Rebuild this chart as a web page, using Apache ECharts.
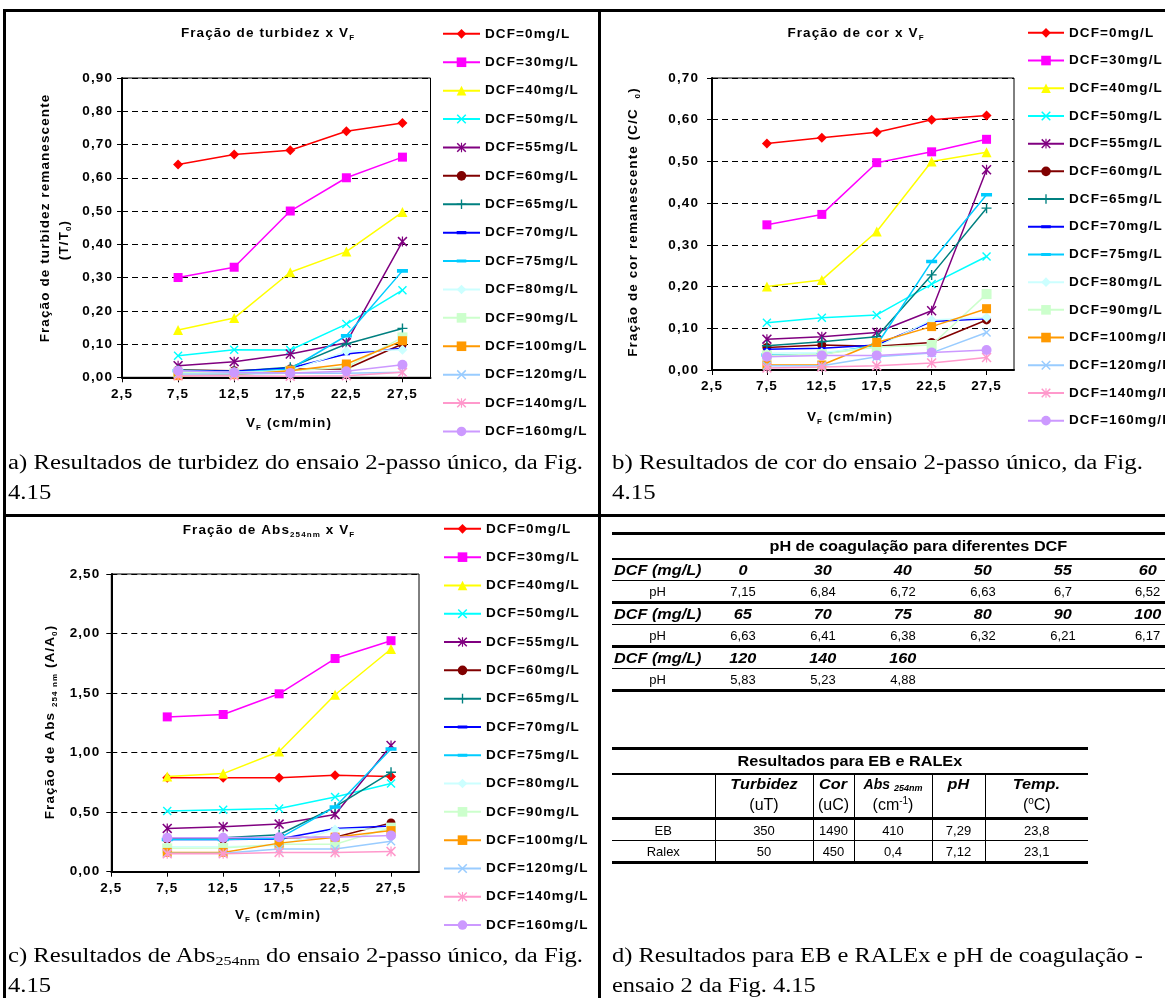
<!DOCTYPE html>
<html>
<head>
<meta charset="utf-8">
<script src="https://cdn.jsdelivr.net/npm/echarts@6/dist/echarts.min.js"></script>
<style>
  html, body { margin: 0; padding: 0; background: #fff; }
  #page { position: relative; width: 1165px; height: 998px; overflow: hidden; background: #fff; }
  #chart { position: absolute; left: 0; top: 0; width: 1165px; height: 998px; }
  .rule { position: absolute; background: #000; }
  .cap { position: absolute; font-family: "Liberation Serif", "Times New Roman", serif; font-size: 20px; line-height: 30px; color: #000; white-space: nowrap; }
  .cap .ln { display: block; width: max-content; transform-origin: 0 50%; }
  .cap sub { font-size: 13px; vertical-align: -3px; line-height: 0; }
  table.tb { position: absolute; border-collapse: collapse; font-family: "Liberation Sans", Arial, sans-serif; font-size: 13px; color: #000; table-layout: fixed; }
  table.tb td { text-align: center; padding: 0; white-space: nowrap; }
  table.tb .hd, table.tb .ttl { font-weight: bold; font-size: 14px; }
  table.tb .hd { font-style: italic; }
  table.tb .sx { display: inline-block; transform: scaleX(1.16); }
  table.tb .lbl { text-align: left; padding-left: 2px; }
  table.tb .lbl .sx { transform-origin: 0 50%; }
  table.tb .unit { font-size: 16px; }
  table.tb sup { font-size: 10px; vertical-align: 6px; line-height: 0; }
  table.tb sub { font-size: 9px; vertical-align: -2px; line-height: 0; }
</style>
</head>
<body>
<div id="page">
  <div id="chart"></div>
  <div class="rule" style="left:3px;top:9px;width:1162px;height:3px"></div>
  <div class="rule" style="left:3px;top:9px;width:3px;height:989px"></div>
  <div class="rule" style="left:598px;top:9px;width:3px;height:989px"></div>
  <div class="rule" style="left:3px;top:514px;width:1162px;height:3px"></div>

  <div class="cap" data-w="575" style="left:8px;top:447px"><span class="ln">a) Resultados de turbidez do ensaio 2-passo único, da Fig.</span><span class="ln">4.15</span></div>
  <div class="cap" data-w="531" style="left:612px;top:447px"><span class="ln">b) Resultados de cor do ensaio 2-passo único, da Fig.</span><span class="ln">4.15</span></div>
  <div class="cap" data-w="575" style="left:8px;top:940px"><span class="ln">c) Resultados de Abs<sub>254nm</sub> do ensaio 2-passo único, da Fig.</span><span class="ln">4.15</span></div>
  <div class="cap" data-w="531" style="left:612px;top:940px"><span class="ln">d) Resultados para EB e RALEx e pH de coagulação -</span><span class="ln">ensaio 2 da Fig. 4.15</span></div>

  <table class="tb" id="phTable" style="left:612px;top:532px;width:580px"></table>
  <table class="tb" id="ebTable" style="left:612px;top:747px;width:476px"></table>
</div>

<script>
// Filtration rate V_F (cm/min) at which each run was sampled
const vf = [7.5, 12.5, 17.5, 22.5, 27.5];
const vfTicks = [2.5, 7.5, 12.5, 17.5, 22.5, 27.5];

// Coagulant doses (DCF, mg/L), one line per dose
const doses = [0, 30, 40, 50, 55, 60, 65, 70, 75, 80, 90, 100, 120, 140, 160];

// Remaining turbidity fraction T/T0, rows follow `doses`
const turbidez = [
  [0.640, 0.670, 0.683, 0.740, 0.765],
  [0.300, 0.331, 0.500, 0.600, 0.662],
  [0.142, 0.178, 0.316, 0.378, 0.497],
  [0.065, 0.083, 0.082, 0.160, 0.262],
  [0.035, 0.047, 0.070, 0.104, 0.408],
  [0.022, 0.020, 0.025, 0.025, 0.100],
  [0.022, 0.018, 0.030, 0.100, 0.147],
  [0.020, 0.018, 0.028, 0.070, 0.087],
  [0.020, 0.015, 0.025, 0.125, 0.320],
  [0.015, 0.015, 0.020, 0.078, 0.083],
  [0.015, 0.013, 0.020, 0.030, 0.120],
  [0.005, 0.008, 0.020, 0.040, 0.110],
  [0.010, 0.010, 0.012, 0.012, 0.015],
  [0.005, 0.005, 0.003, 0.005, 0.015],
  [0.020, 0.015, 0.013, 0.018, 0.038]
];

// Remaining colour fraction C/C0
const cor = [
  [0.543, 0.557, 0.570, 0.600, 0.610],
  [0.348, 0.373, 0.497, 0.523, 0.553],
  [0.200, 0.216, 0.332, 0.500, 0.522],
  [0.113, 0.125, 0.132, 0.206, 0.272],
  [0.074, 0.080, 0.090, 0.142, 0.480],
  [0.054, 0.060, 0.057, 0.066, 0.120],
  [0.058, 0.068, 0.080, 0.228, 0.388],
  [0.050, 0.052, 0.060, 0.116, 0.123],
  [0.036, 0.038, 0.060, 0.260, 0.420],
  [0.040, 0.042, 0.055, 0.120, 0.126],
  [0.035, 0.038, 0.055, 0.060, 0.182],
  [0.012, 0.012, 0.066, 0.104, 0.147],
  [0.010, 0.010, 0.032, 0.041, 0.090],
  [0.005, 0.007, 0.010, 0.017, 0.030],
  [0.032, 0.035, 0.035, 0.042, 0.048]
];

// Remaining UV-254 absorbance fraction A/A0
const abs254 = [
  [0.790, 0.790, 0.790, 0.810, 0.800],
  [1.300, 1.320, 1.494, 1.790, 1.940],
  [0.800, 0.824, 1.010, 1.486, 1.870],
  [0.510, 0.520, 0.530, 0.628, 0.740],
  [0.363, 0.377, 0.400, 0.480, 1.060],
  [0.274, 0.274, 0.285, 0.290, 0.410],
  [0.270, 0.285, 0.310, 0.544, 0.835],
  [0.270, 0.270, 0.275, 0.363, 0.383],
  [0.270, 0.270, 0.280, 0.544, 1.030],
  [0.210, 0.210, 0.220, 0.355, 0.360],
  [0.196, 0.200, 0.230, 0.230, 0.370],
  [0.162, 0.162, 0.240, 0.290, 0.345],
  [0.155, 0.155, 0.190, 0.190, 0.255],
  [0.150, 0.150, 0.162, 0.162, 0.170],
  [0.285, 0.285, 0.290, 0.290, 0.305]
];

// Coagulation pH table
const phDoseRows = [[0, 30, 40, 50, 55, 60], [65, 70, 75, 80, 90, 100], [120, 140, 160]];
const phValueRows = [[7.15, 6.84, 6.72, 6.63, 6.7, 6.52], [6.63, 6.41, 6.38, 6.32, 6.21, 6.17], [5.83, 5.23, 4.88]];

// Raw water (EB) and RALEx characteristics
const ebCols = ['Turbidez', 'Cor', 'Abs', 'pH', 'Temp.'];
const ebValues = [350, 1490, 410, 7.29, 23.8];
const ralexValues = [50, 450, 0.4, 7.12, 23.1];

// ---------- text tracking for the chart canvas (wide spreadsheet-style lettering) ----------
(function () {
  const P = CanvasRenderingContext2D.prototype;
  if (!('letterSpacing' in P)) return;
  const TRACK = '1.1px';
  const fill = P.fillText, stroke = P.strokeText, measure = P.measureText;
  P.fillText = function () { this.letterSpacing = TRACK; return fill.apply(this, arguments); };
  P.strokeText = function () { this.letterSpacing = TRACK; return stroke.apply(this, arguments); };
  P.measureText = function () { this.letterSpacing = TRACK; return measure.apply(this, arguments); };
})();

// ---------- styling ----------
const FONT = '"Liberation Sans", Arial, sans-serif';
const FS = 13.5;
const colors = ['#FF0000', '#FF00FF', '#FFFF00', '#00FFFF', '#800080', '#800000', '#008080', '#0000FF',
                '#00CCFF', '#CCFFFF', '#CCFFCC', '#FF9900', '#99CCFF', '#FF99CC', '#CC99FF'];
const CROSS = 'path://M0,1.1L1.1,0L5,3.9L8.9,0L10,1.1L6.1,5L10,8.9L8.9,10L5,6.1L1.1,10L0,8.9L3.9,5Z';
const STAR = 'path://M0,1.1L1.1,0L5,3.9L8.9,0L10,1.1L6.1,5L10,8.9L8.9,10L5,6.1L1.1,10L0,8.9L3.9,5ZM4.4,0H5.6V10H4.4Z';
const PLUS = 'path://M4.3,0H5.7V4.3H10V5.7H5.7V10H4.3V5.7H0V4.3H4.3Z';
const DASH = 'path://M0,0L0,0ZM0,3.4H10V6.6H0ZM0,10L0,10Z';
const symbols = ['diamond', 'rect', 'triangle', CROSS, STAR, 'circle', PLUS, DASH,
                 DASH, 'diamond', 'rect', 'rect', CROSS, STAR, 'circle'];
const symbolSizes = [10, 9, 10, 9, 10, 9, 10, 7, 11, 10, 10, 9, 9, 10, 10];
const names = doses.map(d => 'DCF=' + d + 'mg/L');

const fmt = v => v.toFixed(2).replace('.', ',');
const fmtX = v => v.toFixed(1).replace('.', ',');

const grids = [
  { left: 122, top: 78, width: 308.5, height: 299.3 },
  { left: 712, top: 78, width: 302, height: 292 },
  { left: 111.3, top: 574, width: 307.7, height: 297.7 }
];
const yRanges = [
  { max: 0.9, interval: 0.1, margin: 9 },
  { max: 0.7, interval: 0.1, margin: 13 },
  { max: 2.5, interval: 0.5, margin: 11 }
];
const panels = [turbidez, cor, abs254];

const axisFont = { fontFamily: FONT, fontWeight: 'bold', fontSize: FS, color: '#000' };

const xAxes = grids.map((g, i) => ({
  type: 'value', gridIndex: i, min: 2.5, max: 30,
  axisLine: { show: true, onZero: false, lineStyle: { color: '#000', width: 2 } },
  axisTick: { show: true, length: 5, customValues: vfTicks, lineStyle: { color: '#000', width: 1 } },
  axisLabel: Object.assign({ customValues: vfTicks, formatter: fmtX, margin: 9 }, axisFont),
  splitLine: { show: false }
}));

const yAxes = grids.map((g, i) => ({
  type: 'value', gridIndex: i, min: 0, max: yRanges[i].max, interval: yRanges[i].interval,
  axisLine: { show: true, onZero: false, lineStyle: { color: '#000', width: 2 } },
  axisTick: { show: true, length: 5, lineStyle: { color: '#000', width: 1 } },
  axisLabel: Object.assign({ formatter: fmt, margin: yRanges[i].margin }, axisFont),
  splitLine: { show: true, lineStyle: { color: '#000', width: 1, type: [6, 4] } }
}));

const series = [];
panels.forEach((rows, p) => {
  rows.forEach((vals, k) => {
    series.push({
      type: 'line', name: names[k], xAxisIndex: p, yAxisIndex: p,
      data: vf.map((x, j) => [x, vals[j]]),
      symbol: symbols[k], symbolSize: symbolSizes[k], symbolKeepAspect: true,
      showSymbol: true,
      lineStyle: { color: colors[k], width: 1.5 },
      itemStyle: { color: colors[k], borderWidth: 0 },
      emphasis: { disabled: true },
      z: 2 + k
    });
  });
});

const legendBase = {
  data: names, orient: 'vertical', itemWidth: 37, itemHeight: 12,
  textStyle: { fontFamily: FONT, fontWeight: 'bold', fontSize: FS, color: '#000', lineHeight: 14 },
  inactiveColor: '#ccc'
};
const legends = [
  Object.assign({}, legendBase, { left: 437, top: 21.3, itemGap: 13.3 }),
  Object.assign({}, legendBase, { left: 1022, top: 20.3, itemGap: 12.6, itemWidth: 36 }),
  Object.assign({}, legendBase, { left: 438, top: 516.3, itemGap: 13.2 })
];

const rich = {
  b: { fontFamily: FONT, fontWeight: 'bold', fontSize: FS, lineHeight: 18, fill: '#000', verticalAlign: 'middle' },
  s: { fontFamily: FONT, fontWeight: 'bold', fontSize: 8, lineHeight: 8, fill: '#000', verticalAlign: 'bottom' }
};
function label(x, y, text, rot) {
  return {
    type: 'text', x: x, y: y, rotation: rot ? Math.PI / 2 : 0, silent: true,
    style: { text: text, rich: rich, align: 'center', verticalAlign: 'middle', fill: '#000' }
  };
}
const graphics = [
  label(268, 33, '{b|Fração de turbidez x V}{s|F}'),
  label(856, 33, '{b|Fração de cor x V}{s|F}'),
  label(269, 530, '{b|Fração de Abs}{s|254nm}{b| x V}{s|F}'),
  label(289, 423, '{b|V}{s|F}{b| (cm/min)}'),
  label(850, 417, '{b|V}{s|F}{b| (cm/min)}'),
  label(278, 915, '{b|V}{s|F}{b| (cm/min)}'),
  label(45, 218, '{b|Fração de turbidez remanescente}', true),
  label(64, 240, '{b|(T/T}{s|0}{b|)}', true),
  label(633, 222, '{b|Fração de cor remanescente (C/C  }{s|0}{b|)}', true),
  label(50, 722, '{b|Fração de Abs }{s|254 nm}{b| (A/A}{s|0}{b|)}', true)
];

const chart = echarts.init(document.getElementById('chart'), null, { renderer: 'canvas' });
chart.setOption({
  animation: false,
  backgroundColor: 'transparent',
  grid: grids.map(g => Object.assign({ show: true, borderColor: '#000', borderWidth: 1, backgroundColor: 'transparent', containLabel: false }, g)),
  xAxis: xAxes,
  yAxis: yAxes,
  legend: legends,
  graphic: graphics,
  series: series
});

// ---------- tables ----------
const num = v => String(v).replace('.', ',');
const sx = s => '<span class="sx">' + s + '</span>';
(function buildPh() {
  const t = document.getElementById('phTable');
  const widths = [91, 80, 80, 80, 80, 80, 89];
  let html = '<colgroup>' + widths.map(w => '<col style="width:' + w + 'px">').join('') + '</colgroup>';
  html += '<tr style="height:25px;border-top:3px solid #000;border-bottom:2px solid #000"><td class="ttl" colspan="7" style="padding-left:32px">' +
    sx('pH de coagulação para diferentes DCF') + '</td></tr>';
  phDoseRows.forEach((doseRow, r) => {
    html += '<tr style="height:22px;border-bottom:1px solid #000"><td class="hd lbl">' + sx('DCF (mg/L)') + '</td>' +
      [0, 1, 2, 3, 4, 5].map(c => '<td class="hd">' + (doseRow[c] !== undefined ? sx(doseRow[c]) : '') + '</td>').join('') + '</tr>';
    html += '<tr style="height:22px;border-bottom:3px solid #000"><td>pH</td>' +
      [0, 1, 2, 3, 4, 5].map(c => '<td>' + (phValueRows[r][c] !== undefined ? num(phValueRows[r][c]) : '') + '</td>').join('') + '</tr>';
  });
  t.innerHTML = html;
})();

(function buildEb() {
  const t = document.getElementById('ebTable');
  const widths = [103, 98, 41, 78, 53, 103];
  const units = ['(uT)', '(uC)', '(cm<sup>-1</sup>)', '', '(<sup>o</sup>C)'];
  const vl = 'border-left:1px solid #000;';
  let html = '<colgroup>' + widths.map(w => '<col style="width:' + w + 'px">').join('') + '</colgroup>';
  html += '<tr style="height:25px;border-top:3px solid #000;border-bottom:2px solid #000"><td class="ttl" colspan="6">' +
    sx('Resultados para EB e RALEx') + '</td></tr>';
  html += '<tr style="height:20px"><td></td>' + ebCols.map(c => '<td class="hd" style="' + vl + '">' +
    (c === 'Abs' ? 'Abs <sub>254nm</sub>' : sx(c)) + '</td>').join('') + '</tr>';
  html += '<tr style="height:25px;border-bottom:3px solid #000"><td></td>' + units.map(u => '<td class="unit" style="' + vl + '">' + u + '</td>').join('') + '</tr>';
  html += '<tr style="height:22px;border-bottom:1px solid #000"><td>EB</td>' + ebValues.map(v => '<td style="' + vl + '">' + num(v) + '</td>').join('') + '</tr>';
  html += '<tr style="height:22px;border-bottom:3px solid #000"><td>Ralex</td>' + ralexValues.map(v => '<td style="' + vl + '">' + num(v) + '</td>').join('') + '</tr>';
  t.innerHTML = html;
})();

// Captions: the first line of each caption is stretched to the full cell width
document.querySelectorAll('.cap').forEach(cap => {
  const lines = cap.querySelectorAll('.ln');
  const target = parseFloat(cap.dataset.w);
  const k = target / lines[0].getBoundingClientRect().width;
  lines.forEach(l => { l.style.transform = 'scaleX(' + k + ')'; });
});
</script>
</body>
</html>
